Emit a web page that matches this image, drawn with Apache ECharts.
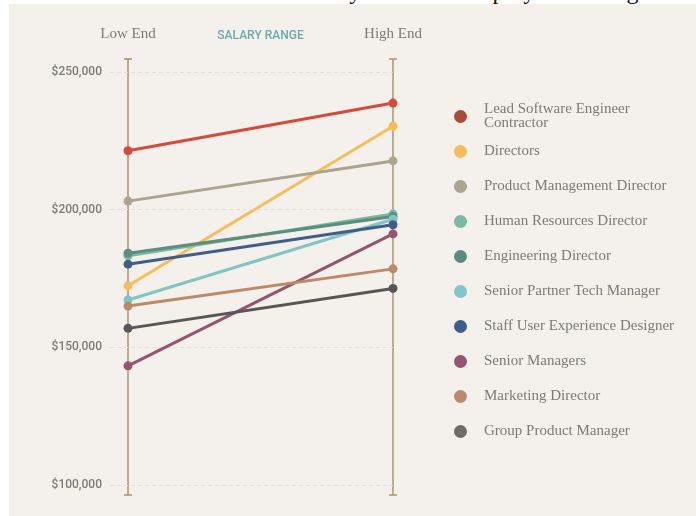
<!DOCTYPE html>
<html>
<head>
<meta charset="utf-8">
<script src="https://cdn.jsdelivr.net/npm/echarts@6/dist/echarts.min.js"></script>
<style>
  html, body { margin: 0; padding: 0; background: #fff; width: 696px; height: 516px; overflow: hidden; position: relative; }
  #heading { position: absolute; left: 300px; top: -21px; font: 24px "Liberation Serif", serif; line-height: 24px; color: #111; white-space: nowrap; z-index: 0; }
  #panel { position: absolute; left: 9px; top: 4px; width: 687px; height: 512px; background: #f4f1ec; z-index: 1; }
  #chart { position: absolute; left: 0; top: 0; width: 696px; height: 516px; z-index: 2; }
</style>
</head>
<body>
<div id="heading">Salary Data and Employee Earnings</div>
<div id="panel"></div>
<div id="chart"></div>
<script>
// Column headers along the top, placed at x = 0 (low), 0.5 (middle), 1 (high)
const headerLabels = ['Low End', 'SALARY RANGE', 'High End'];
const headerPositions = [0, 0.5, 1];

// Job titles, in legend order
const roles = [
  'Lead Software Engineer Contractor',
  'Directors',
  'Product Management Director',
  'Human Resources Director',
  'Engineering Director',
  'Senior Partner Tech Manager',
  'Staff User Experience Designer',
  'Senior Managers',
  'Marketing Director',
  'Group Product Manager'
];

// Salary range ends (USD)
const lowEnd  = [221400, 172400, 203100, 183300, 184200, 167200, 180200, 143300, 165000, 156900];
const highEnd = [238700, 230300, 217700, 198400, 197500, 196500, 194500, 191200, 178500, 171400];

// Line / marker colours and the slightly different legend dot colours
const lineColors = ['#d9493a', '#f6bd5b', '#aba58c', '#76b9a2', '#5b8e7d', '#80c4c6', '#3f5f88', '#93566f', '#bc8a69', '#565656'];
const dotColors  = ['#a84c39', '#f5bd5c', '#aaa58c', '#7abba6', '#5b8b7e', '#83c5c8', '#3e5f86', '#955472', '#bb8a6a', '#6c6c6b'];

// Value axis
const yTicks = [100000, 150000, 200000, 250000];
const yMin = 96400;
const yMax = 254700;

const chart = echarts.init(document.getElementById('chart'), null, { renderer: 'canvas' });

const serif = '"Liberation Serif", "Times New Roman", serif';
const axisColor = '#a8956f';

const lineSeries = roles.map((name, i) => ({
  name: name,
  type: 'line',
  data: [[0, lowEnd[i]], [1, highEnd[i]]],
  symbol: 'circle',
  symbolSize: 9,
  color: lineColors[i],
  itemStyle: { color: lineColors[i], borderWidth: 0 },
  lineStyle: { color: lineColors[i], width: 3 },
  emphasis: { disabled: true },
  silent: true,
  z: 3 + i
}));

// The two vertical range axes with end caps, plus the dashed value gridlines
const frameSeries = {
  type: 'custom',
  silent: true,
  z: 1,
  data: [[0, yMin, yMax], [1, yMin, yMax]],
  encode: { x: 0, y: 1 },
  renderItem: function (params, api) {
    const x = api.value(0);
    const top = api.coord([x, api.value(2)]);
    const bot = api.coord([x, api.value(1)]);
    const cap = 4;
    const style = { stroke: axisColor, lineWidth: 1.5 };
    return {
      type: 'group',
      children: [
        { type: 'line', shape: { x1: top[0], y1: top[1], x2: bot[0], y2: bot[1] }, style: style },
        { type: 'line', shape: { x1: top[0] - cap, y1: top[1], x2: top[0] + cap, y2: top[1] }, style: style },
        { type: 'line', shape: { x1: bot[0] - cap, y1: bot[1], x2: bot[0] + cap, y2: bot[1] }, style: style }
      ]
    };
  },
  markLine: {
    silent: true,
    symbol: 'none',
    label: { show: false },
    lineStyle: { color: '#e3dfd8', type: [4, 3], width: 1 },
    data: yTicks.map(v => ({ yAxis: v }))
  }
};

const legendText = {
  fontFamily: serif,
  fontSize: 15,
  lineHeight: 14,
  color: '#7b7b7b',
  padding: [0, 0, 0, 12]
};

chart.setOption({
  animation: false,
  backgroundColor: 'transparent',
  grid: { left: 110, top: 59, width: 283, bottom: 21 },
  xAxis: {
    type: 'value',
    position: 'top',
    min: -0.068,
    max: 1,
    axisLine: { show: false },
    axisTick: { show: false },
    splitLine: { show: false },
    axisLabel: {
      customValues: headerPositions,
      margin: 17,
      formatter: function (v) {
        const idx = headerPositions.indexOf(v);
        const text = headerLabels[idx];
        return idx === 1 ? '{mid|' + text + '}' : '{end|' + text + '}';
      },
      rich: {
        end: { fontFamily: serif, fontSize: 15, color: '#7b7b7b' },
        mid: { fontFamily: 'Roboto', fontWeight: 500, fontSize: 12, color: '#6ea9ad' }
      }
    }
  },
  yAxis: {
    type: 'value',
    min: yMin,
    max: yMax,
    axisLine: { show: false },
    axisTick: { show: false },
    splitLine: { show: false },
    axisLabel: {
      customValues: yTicks,
      margin: 8,
      fontFamily: 'Roboto',
      fontSize: 12,
      fontWeight: 500,
      color: '#7b7b7b',
      formatter: v => '$' + v.toLocaleString('en-US')
    }
  },
  legend: [
    {
      orient: 'vertical',
      left: 449,
      top: 97,
      icon: 'circle',
      itemWidth: 13,
      itemHeight: 13,
      selectedMode: false,
      textStyle: Object.assign({ width: 150, overflow: 'break' }, legendText),
      data: roles.slice(0, 1).map((name, i) => ({ name: name, itemStyle: { color: dotColors[i], borderWidth: 0 } }))
    },
    {
      orient: 'vertical',
      left: 449,
      top: 139,
      itemGap: 20,
      icon: 'circle',
      itemWidth: 13,
      itemHeight: 13,
      selectedMode: false,
      textStyle: legendText,
      data: roles.slice(1).map((name, i) => ({ name: name, itemStyle: { color: dotColors[i + 1], borderWidth: 0 } }))
    }
  ],
  series: [frameSeries].concat(lineSeries)
});
</script>
</body>
</html>
